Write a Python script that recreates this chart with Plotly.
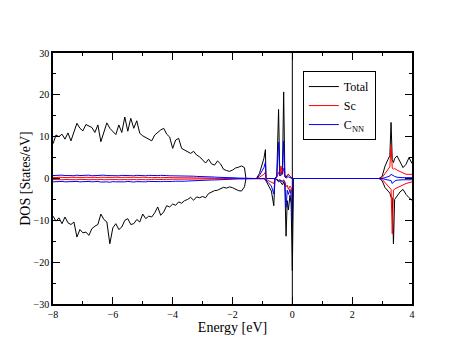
import plotly.graph_objects as go

# energy grid (eV), valence band part
energy_a = [-8.0, -7.9, -7.8, -7.7, -7.6, -7.5, -7.4, -7.3, -7.2, -7.1,
            -7.0, -6.9, -6.8, -6.7, -6.6, -6.5, -6.4, -6.3, -6.2, -6.1,
            -6.0, -5.9, -5.8, -5.7, -5.6, -5.5, -5.4, -5.3, -5.2, -5.1,
            -5.0, -4.9, -4.8, -4.7, -4.6, -4.5, -4.4, -4.3, -4.2, -4.1,
            -4.0, -3.9, -3.8, -3.7, -3.6, -3.5, -3.4, -3.3, -3.2, -3.1,
            -3.0, -2.9, -2.8, -2.7, -2.6, -2.5, -2.4, -2.3, -2.2, -2.1,
            -2.0, -1.9, -1.8, -1.7, -1.6]
# near the Fermi level
energy_b = [-1.55, -1.5, -1.2, -1.1, -1.0, -0.95, -0.9, -0.88, -0.8, -0.7,
            -0.62, -0.58, -0.52, -0.46, -0.42, -0.38, -0.33, -0.29, -0.25, -0.21,
            -0.17, -0.13, -0.08, -0.04, 0.0, 0.04, 0.1]
# conduction band part
energy_c = [2.9, 3.0, 3.1, 3.2, 3.26, 3.3, 3.34, 3.38, 3.42, 3.5, 3.6, 3.7, 3.8, 3.9, 4.0]

total_up_a = [8.3, 10.4, 10.0, 10.6, 9.4, 10.9, 9.0, 11.2, 13.2, 12.0,
              11.4, 12.9, 12.6, 12.2, 11.0, 12.8, 8.8, 11.0, 13.3, 12.0,
              11.2, 10.5, 12.8, 11.0, 14.7, 11.3, 14.4, 12.0, 13.8, 10.8,
              10.2, 9.8, 9.6, 9.0, 10.4, 11.1, 11.6, 12.0, 10.6, 9.9,
              7.2, 9.2, 9.6, 7.2, 6.8, 6.4, 6.0, 6.5, 5.6, 5.2,
              4.4, 3.7, 4.6, 3.5, 3.2, 4.2, 3.5, 2.2, 1.9, 1.7,
              2.0, 2.5, 2.7, 3.0, 2.6]
total_dn_a = [-9.0, -10.2, -9.4, -10.8, -9.2, -10.6, -11.0, -10.4, -14.0, -12.2,
              -13.0, -12.8, -13.6, -12.0, -11.4, -11.0, -8.5, -9.8, -10.4, -15.6,
              -11.8, -10.8, -12.2, -11.6, -10.0, -9.6, -11.0, -10.8, -9.8, -10.4,
              -8.5, -9.6, -9.0, -9.2, -8.2, -6.8, -8.8, -8.0, -6.5, -6.8,
              -6.1, -6.4, -5.6, -5.9, -5.3, -5.0, -4.5, -5.2, -4.4, -4.6,
              -4.3, -4.6, -3.6, -3.2, -2.9, -2.8, -2.4, -2.1, -2.3, -2.0,
              -2.2, -2.6, -2.9, -3.0, -2.0]
sc_up_a = [0.30, 0.20, 0.30, 0.25, 0.30, 0.20, 0.30, 0.25, 0.20, 0.30,
           0.25, 0.30, 0.20, 0.25, 0.30, 0.20, 0.30, 0.25, 0.20, 0.30,
           0.25, 0.30, 0.20, 0.25, 0.30, 0.20, 0.25, 0.30, 0.20, 0.25,
           0.30, 0.20, 0.25, 0.20, 0.30, 0.25, 0.20, 0.25, 0.20, 0.25,
           0.20, 0.20, 0.25, 0.20, 0.20, 0.15, 0.20, 0.15, 0.15, 0.10,
           0.15, 0.10, 0.10, 0.10, 0.05, 0.10, 0.05, 0.05, 0.05, 0.00,
           0.05, 0.00, 0.00, 0.00, 0.00]
sc_dn_a = [-0.25, -0.30, -0.20, -0.30, -0.25, -0.30, -0.20, -0.25, -0.30, -0.20,
           -0.30, -0.25, -0.30, -0.20, -0.25, -0.30, -0.20, -0.30, -0.25, -0.30,
           -0.20, -0.25, -0.30, -0.20, -0.25, -0.30, -0.20, -0.25, -0.30, -0.20,
           -0.25, -0.30, -0.20, -0.25, -0.20, -0.25, -0.20, -0.25, -0.20, -0.20,
           -0.20, -0.15, -0.20, -0.20, -0.15, -0.15, -0.15, -0.10, -0.15, -0.10,
           -0.10, -0.10, -0.05, -0.10, -0.05, -0.05, -0.05, 0.00, -0.05, 0.00,
           0.00, 0.00, 0.00, 0.00, 0.00]
cnn_up_a = [0.70, 0.75, 0.65, 0.80, 0.70, 0.75, 0.70, 0.65, 0.80, 0.70,
            0.75, 0.70, 0.80, 0.65, 0.70, 0.75, 0.70, 0.80, 0.70, 0.65,
            0.75, 0.70, 0.65, 0.75, 0.70, 0.80, 0.70, 0.65, 0.75, 0.70,
            0.70, 0.65, 0.75, 0.70, 0.65, 0.70, 0.75, 0.65, 0.70, 0.65,
            0.65, 0.70, 0.60, 0.65, 0.60, 0.55, 0.60, 0.55, 0.50, 0.50,
            0.45, 0.50, 0.40, 0.40, 0.35, 0.30, 0.30, 0.25, 0.20, 0.20,
            0.15, 0.15, 0.10, 0.10, 0.05]
cnn_dn_a = [-0.80, -0.75, -0.85, -0.70, -0.80, -0.75, -0.85, -0.80, -0.70, -0.80,
            -0.75, -0.85, -0.70, -0.80, -0.75, -0.70, -0.85, -0.75, -0.80, -0.90,
            -0.75, -0.80, -0.85, -0.75, -0.80, -0.70, -0.80, -0.85, -0.75, -0.80,
            -0.75, -0.80, -0.70, -0.75, -0.80, -0.70, -0.75, -0.70, -0.75, -0.70,
            -0.70, -0.65, -0.70, -0.60, -0.65, -0.60, -0.55, -0.60, -0.50, -0.50,
            -0.45, -0.45, -0.40, -0.35, -0.35, -0.30, -0.25, -0.25, -0.20, -0.20,
            -0.15, -0.15, -0.10, -0.10, -0.05]

total_up_b = [0, 0, 0, 1.2, 3.6, 4.8, 6.9, 0, 0, 0,
              0, 0, 0.6, 16.5, 1.2, 1.0, 2.0, 20.7, 0.8, 0.3,
              0.8, 1.0, 0.5, 0.2, 0, 0, 0]
total_dn_b = [0, 0, 0, 0, 0, 0, -0.3, -0.6, -1.6, -3.0,
              -6.5, 0, -0.3, -0.8, -0.6, -1.0, -1.5, -0.8, -1.8, -13.8,
              -5.3, -7.5, -4.0, -6.0, -22.0, 0, 0]
sc_up_b = [0, 0, 0, 0.3, 0.8, 1.0, 1.5, 0, 0, 0,
           0, 0, 0.3, 1.5, 0.6, 3.0, 1.0, 2.5, 0.4, 0.2,
           0.5, 1.0, 0.6, 0.2, 0, 0, 0]
sc_dn_b = [0, 0, 0, 0, 0, 0, -0.1, -0.2, -0.5, -0.8,
           -1.2, 0, -0.2, -0.4, -0.3, -0.5, -0.6, -0.3, -0.8, -2.0,
           -1.6, -2.6, -1.8, -2.2, -4.5, 0, 0]
cnn_up_b = [0, 0, 0, 0.7, 2.0, 2.6, 3.9, 0, 0, 0,
            0, 0, 0.3, 8.7, 0.7, 0.7, 1.2, 9.0, 0.4, 0.1,
            0.3, 0.4, 0.2, 0.1, 0, 0, 0]
cnn_dn_b = [0, 0, 0, 0, 0, 0, -0.2, -0.4, -1.0, -1.8,
            -3.7, 0, -0.2, -0.5, -0.4, -0.6, -0.8, -0.5, -1.0, -6.9,
            -2.8, -3.8, -2.6, -4.0, -10.0, 0, 0]

total_up_c = [0, 0.5, 3.0, 4.6, 5.5, 13.4, 4.5, 3.8, 4.8, 5.4, 4.0, 2.6, 3.4, 5.0, 3.6]
total_dn_c = [0, -0.5, -2.2, -3.0, -3.5, -4.5, -4.6, -15.6, -5.0, -4.2, -3.2, -2.6, -3.8, -4.6, -5.2]
sc_up_c = [0, 0.2, 1.2, 2.0, 2.8, 7.9, 2.5, 2.2, 2.4, 2.0, 1.6, 1.2, 1.0, 1.0, 1.0]
sc_dn_c = [0, -0.2, -1.0, -1.8, -2.2, -2.6, -13.2, -2.8, -2.5, -2.2, -1.9, -1.5, -1.2, -1.0, -0.8]
cnn_up_c = [0, 0, 0.2, 0.4, 0.6, 1.0, 0.8, 0.5, 0.5, 0.3, 0.2, 0.2, 0.2, 0.2, 0.2]
cnn_dn_c = [0, 0, -0.2, -0.4, -0.6, -0.5, -1.2, -0.8, -0.6, -0.4, -0.3, -0.3, -0.3, -0.3, -0.3]

fermi_level = 0.0

energy = energy_a + energy_b + energy_c
series = [
    ("Total", "black", total_up_a + total_up_b + total_up_c, total_dn_a + total_dn_b + total_dn_c),
    ("Sc", "red", sc_up_a + sc_up_b + sc_up_c, sc_dn_a + sc_dn_b + sc_dn_c),
    ("C<sub>NN</sub>", "blue", cnn_up_a + cnn_up_b + cnn_up_c, cnn_dn_a + cnn_dn_b + cnn_dn_c),
]

fig = go.Figure()
for name, color, up, dn in series:
    fig.add_trace(go.Scatter(x=energy, y=up, mode="lines", name=name,
                             line=dict(color=color, width=1), legendgroup=name))
    fig.add_trace(go.Scatter(x=energy, y=dn, mode="lines", name=name,
                             line=dict(color=color, width=1), legendgroup=name,
                             showlegend=False))

fig.add_vline(x=fermi_level, line_color="black", line_width=1)

serif = "Liberation Serif"
axis_common = dict(showgrid=False, zeroline=False, showline=True, linecolor="black",
                   linewidth=1.5, mirror="allticks", ticks="inside", ticklen=7,
                   tickwidth=1, tickcolor="black",
                   tickfont=dict(family=serif, size=10, color="black"))

fig.update_xaxes(range=[-8, 4], tick0=-8, dtick=2,
                 minor=dict(ticks="inside", ticklen=3, dtick=1, tickcolor="black"),
                 title=dict(text="Energy [eV]", font=dict(family=serif, size=14), standoff=0),
                 **axis_common)
fig.update_yaxes(range=[-30, 30], tick0=-30, dtick=10,
                 minor=dict(ticks="inside", ticklen=3, dtick=5, tickcolor="black"),
                 title=dict(text="DOS [States/eV]", font=dict(family=serif, size=14), standoff=0),
                 **axis_common)

# page body adds an 8px offset, so the figure is sized to fit the window
fig.update_layout(
    width=455, height=350,
    margin=dict(l=45, r=51, t=45, b=54),
    paper_bgcolor="white", plot_bgcolor="white",
    font=dict(family=serif, color="black"),
    legend=dict(x=0.696, y=0.928, xanchor="left", yanchor="top",
                bordercolor="black", borderwidth=1, bgcolor="white",
                font=dict(family=serif, size=12), itemwidth=30, tracegroupgap=0),
)

fig.write_html("out.html")
